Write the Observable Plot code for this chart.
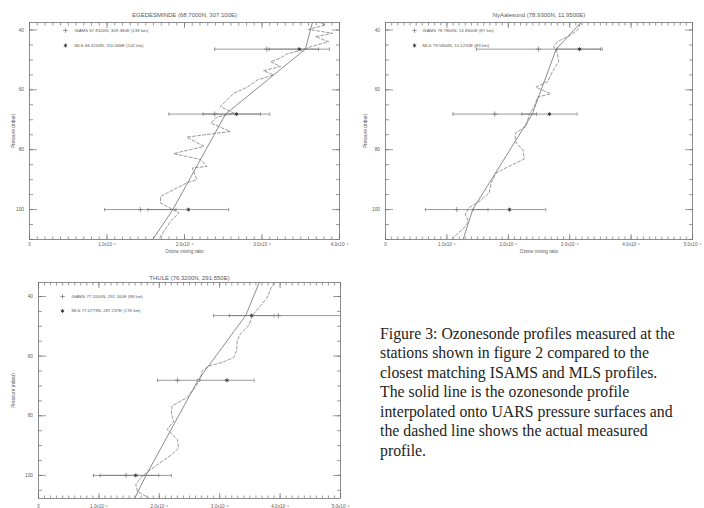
<!DOCTYPE html>
<html><head><meta charset="utf-8">
<script src="https://cdn.jsdelivr.net/npm/d3@7"></script>
<script src="https://cdn.jsdelivr.net/npm/@observablehq/plot@0.6"></script>
<style>
html,body{margin:0;padding:0;width:704px;height:508px;overflow:hidden;background:#fff;}
#wrap{position:relative;width:704px;height:508px;overflow:hidden;}
.panel{position:absolute;}
#caption{position:absolute;left:380px;top:323.5px;font-family:"Liberation Serif",serif;font-size:15.8px;line-height:19.5px;color:#222;white-space:nowrap;}
</style></head><body>
<div id="wrap">
<div id="p1" class="panel" style="left:0px;top:0px"></div>
<div id="p2" class="panel" style="left:352px;top:0px"></div>
<div id="p3" class="panel" style="left:0px;top:262px"></div>
<div id="caption">Figure 3: Ozonesonde profiles measured at the<br>stations shown in figure 2 compared to the<br>closest matching ISAMS and MLS profiles.<br>The solid line is the ozonesonde profile<br>interpolated onto UARS pressure surfaces and<br>the dashed line shows the actual measured<br>profile.</div>
</div>
<script>
// UARS pressure surfaces (mbar) used by the interpolated ozonesonde profile
const uarsLevels = [31.6, 46.4, 68.1, 100, 146.8];
// satellite retrieval levels (mbar)
const satLevels = [46.4, 68.1, 100];
const yTickLabels = [40, 60, 80, 100];

// ---- Egedesminde (units of 1e-6) ----
const egeTitle = "EGEDESMINDE (68.7000N, 307.100E)";
const egeIsamsLabel = "ISAMS 67.8100N, 309.380E (138 km)";
const egeMlsLabel = "MLS 68.4234N, 310.086E (142 km)";
const egeInterp = [3.71, 3.56, 2.53, 1.85, 0.63];
const egeDashP = [37.2, 38.3, 39.8, 41.1, 42.2, 43.9, 45.6, 46.7, 48.0, 49.4, 50.6, 52.2, 53.6, 55.0, 56.7, 59.1, 61.1, 63.3, 65.6, 67.8, 69.1, 71.1, 73.9, 75.8, 78.9, 81.3, 83.3, 85.6, 86.1, 90.0, 91.1, 95.6, 97.8, 101.1, 103.9, 106.7, 109.8];
const egeDashV = [3.71, 3.82, 3.60, 3.91, 3.69, 3.86, 3.63, 3.52, 3.32, 3.24, 3.11, 3.24, 3.02, 3.15, 2.94, 2.81, 2.64, 2.55, 2.46, 2.64, 2.42, 2.34, 2.59, 2.03, 2.25, 1.86, 2.21, 2.29, 2.10, 2.16, 2.03, 1.69, 1.69, 1.93, 1.82, 1.75, 1.67];
const egeIsams = [3.06, 2.39, 1.43];
const egeIsamsErr = [0.67, 0.59, 0.46];
const egeMls = [3.48, 2.67, 2.05];
const egeMlsErr = [0.39, 0.43, 0.52];

// ---- Ny-Aalesund ----
const nyTitle = "NyAalesund (78.9300N, 11.9500E)";
const nyIsamsLabel = "ISAMS 78.7800N, 14.8500E (87 km)";
const nyMlsLabel = "MLS 79.5864N, 10.1232E (83 km)";
const nyInterp = [3.45, 2.78, 2.39, 1.42, 0.69];
const nyDashP = [36.4, 40.0, 42.0, 43.9, 45.6, 47.8, 50.6, 53.9, 57.2, 59.1, 61.3, 62.4, 65.6, 68.3, 72.2, 74.4, 77.2, 80.2, 83.1, 86.1, 87.8, 91.1, 94.4, 97.2, 99.4, 101.7, 103.9, 106.1, 109.6];
const nyDashV = [3.20, 3.13, 2.99, 2.80, 2.74, 2.80, 2.82, 2.72, 2.64, 2.45, 2.69, 2.48, 2.42, 2.34, 2.29, 2.12, 2.11, 2.24, 2.26, 1.96, 1.80, 1.72, 1.69, 1.53, 1.36, 1.30, 1.35, 1.28, 1.09];
const nyIsams = [2.49, 1.78, 1.16];
const nyIsamsErr = [1.01, 0.68, 0.51];
const nyMls = [3.16, 2.67, 2.02];
const nyMlsErr = [0.37, 0.45, 0.59];

// ---- Thule ----
const thTitle = "THULE (76.3200N, 291.550E)";
const thIsamsLabel = "ISAMS 77.2000N, 291.160E (98 km)";
const thMlsLabel = "MLS 77.0773N, 287.237E (176 km)";
const thInterp = [3.73, 3.43, 2.64, 1.78, 0.64];
const thDashP = [35.4, 37.1, 40.2, 43.0, 46.4, 49.8, 52.6, 54.8, 58.2, 60.5, 62.1, 63.3, 64.9, 67.7, 71.1, 73.9, 76.7, 79.5, 81.8, 84.6, 88.0, 90.8, 93.0, 96.4, 98.9, 100.9, 103.1, 105.4, 108.2];
const thDashV = [3.90, 3.85, 3.79, 3.68, 3.54, 3.48, 3.34, 3.29, 3.28, 3.23, 3.04, 2.82, 2.71, 2.68, 2.57, 2.46, 2.21, 2.20, 2.24, 2.13, 2.30, 2.32, 2.21, 1.97, 1.80, 1.69, 1.61, 1.64, 1.88];
const thIsams = [3.97, 2.30, 1.45];
const thIsamsErr = [1.07, 0.33, 0.54];
const thMls = [3.53, 3.12, 1.61];
const thMlsErr = [0.37, 0.45, 0.59];

const INK = "#707070";
const TXT = "#5a5a5a";
const FONT = "Liberation Sans, Arial, sans-serif";

const vbar = {draw(ctx, size) { const h = Math.sqrt(size / Math.PI); ctx.moveTo(0, -h); ctx.lineTo(0, h); }};

function fmtX(d) { return d === 0 ? "0" : d.toFixed(1) + "x10\u207B\u2076"; }
const noText = () => "";

function panel(c) {
  const isams = satLevels.map((p, i) => ({p, v: c.isams[i], e: c.isamsErr[i]}));
  const mls = satLevels.map((p, i) => ({p, v: c.mls[i], e: c.mlsErr[i]}));
  const interp = uarsLevels.map((p, i) => ({p, v: c.interp[i]}));
  const dash = c.dashP.map((p, i) => ({p, v: c.dashV[i]}));
  const ends = [...isams, ...mls].flatMap(d => [{p: d.p, v: d.v - d.e}, {p: d.p, v: d.v + d.e}]);
  const xMajor = d3.range(0, c.xmax + 1);
  const xMinor = d3.range(0, c.xmax * 10 + 1).map(i => i / 10);
  const yMinor = d3.range(7, 23).map(i => i * 5).filter(p => p >= c.ytop && p <= c.ybottom);
  const tk = {tickFormat: noText, label: null, stroke: INK, strokeWidth: 0.7};
  return Plot.plot({
    width: 352, height: 256,
    marginLeft: c.ml, marginRight: c.mr, marginTop: c.mt, marginBottom: c.mb,
    style: {fontFamily: FONT, background: "transparent", color: TXT, overflow: "visible"},
    x: {domain: [0, c.xmax], axis: null},
    y: {domain: [c.ybottom, c.ytop], axis: null},
    marks: [
      Plot.frame({stroke: INK, strokeWidth: 0.8}),
      // inward ticks on all four sides
      Plot.axisX(xMinor, {anchor: "bottom", tickSize: -2.5, ...tk}),
      Plot.axisX(xMinor, {anchor: "top", tickSize: -2.5, ...tk}),
      Plot.axisX(xMajor, {anchor: "bottom", tickSize: -5, ...tk}),
      Plot.axisX(xMajor, {anchor: "top", tickSize: -5, ...tk}),
      Plot.axisY(yMinor, {anchor: "left", tickSize: -4, ...tk}),
      Plot.axisY(yMinor, {anchor: "right", tickSize: -4, ...tk}),
      Plot.axisY(yTickLabels, {anchor: "left", tickSize: -8, ...tk}),
      Plot.axisY(yTickLabels, {anchor: "right", tickSize: -8, ...tk}),
      // tick labels and axis titles
      Plot.axisX(xMajor, {anchor: "bottom", tickSize: 0, tickPadding: c.xpad, tickFormat: fmtX, fontSize: 4.6, fill: TXT,
        label: "Ozone mixing ratio", labelAnchor: "center", labelOffset: 13, labelArrow: "none"}),
      Plot.axisY(yTickLabels, {anchor: "left", tickSize: 0, tickPadding: 5.5, fontSize: 4.8, fill: TXT,
        label: "Pressure (mbar)", labelAnchor: "center", labelOffset: c.ml - 11, labelArrow: "none"}),
      Plot.text([c.title], {frameAnchor: "top", dy: c.titleDy, fontSize: 6, fill: TXT, lineAnchor: "middle"}),
      // legend
      Plot.dot([0], {frameAnchor: "top-left", dx: c.lgx, dy: c.lgy, symbol: "plus", r: 1.6, stroke: INK, strokeWidth: 0.7}),
      Plot.dot([0], {frameAnchor: "top-left", dx: c.lgx, dy: c.lgy + c.lgs, symbol: "asterisk", r: 1.8, stroke: "#333", strokeWidth: 0.9}),
      Plot.text([c.isamsLabel], {frameAnchor: "top-left", dx: c.lgx + c.lgt, dy: c.lgy, textAnchor: "start", lineAnchor: "middle", fontSize: 4.4, fill: TXT}),
      Plot.text([c.mlsLabel], {frameAnchor: "top-left", dx: c.lgx + c.lgt, dy: c.lgy + c.lgs, textAnchor: "start", lineAnchor: "middle", fontSize: 4.4, fill: TXT}),
      // error bars
      Plot.ruleY(isams, {y: "p", x1: d => d.v - d.e, x2: d => d.v + d.e, stroke: INK, strokeWidth: 0.7, clip: true}),
      Plot.ruleY(mls, {y: "p", x1: d => d.v - d.e, x2: d => d.v + d.e, stroke: INK, strokeWidth: 0.7, clip: true}),
      Plot.dot(ends, {x: "v", y: "p", symbol: vbar, r: 1.8, stroke: INK, strokeWidth: 0.7, clip: true}),
      Plot.dot(isams, {x: "v", y: "p", symbol: "plus", r: 1.8, stroke: INK, strokeWidth: 0.7}),
      Plot.dot(mls, {x: "v", y: "p", symbol: "asterisk", r: 1.8, stroke: "#333", strokeWidth: 0.9}),
      // profiles
      Plot.line(interp, {x: "v", y: "p", stroke: INK, strokeWidth: 0.8, clip: true}),
      Plot.line(dash, {x: "v", y: "p", stroke: INK, strokeWidth: 0.7, strokeDasharray: "3,2", clip: true})
    ]
  });
}

document.getElementById("p1").append(panel({
  title: egeTitle, isamsLabel: egeIsamsLabel, mlsLabel: egeMlsLabel,
  interp: egeInterp, dashP: egeDashP, dashV: egeDashV,
  isams: egeIsams, isamsErr: egeIsamsErr, mls: egeMls, mlsErr: egeMlsErr,
  xmax: 4, ytop: 37.5, ybottom: 110,
  ml: 29, mr: 13, mt: 22, mb: 17, titleDy: -7, xpad: 3,
  lgx: 36, lgy: 8, lgs: 15, lgt: 9
}));
document.getElementById("p2").append(panel({
  title: nyTitle, isamsLabel: nyIsamsLabel, mlsLabel: nyMlsLabel,
  interp: nyInterp, dashP: nyDashP, dashV: nyDashV,
  isams: nyIsams, isamsErr: nyIsamsErr, mls: nyMls, mlsErr: nyMlsErr,
  xmax: 5, ytop: 37.5, ybottom: 110,
  ml: 33, mr: 12, mt: 22, mb: 17, titleDy: -7, xpad: 3,
  lgx: 29, lgy: 8, lgs: 15, lgt: 8
}));
document.getElementById("p3").append(panel({
  title: thTitle, isamsLabel: thIsamsLabel, mlsLabel: thMlsLabel,
  interp: thInterp, dashP: thDashP, dashV: thDashV,
  isams: thIsams, isamsErr: thIsamsErr, mls: thMls, mlsErr: thMlsErr,
  xmax: 5, ytop: 35.3, ybottom: 107.75,
  ml: 38, mr: 12, mt: 20, mb: 20, titleDy: -4, xpad: 6.5,
  lgx: 24, lgy: 14, lgs: 14.5, lgt: 9
}));
</script>
</body></html>
